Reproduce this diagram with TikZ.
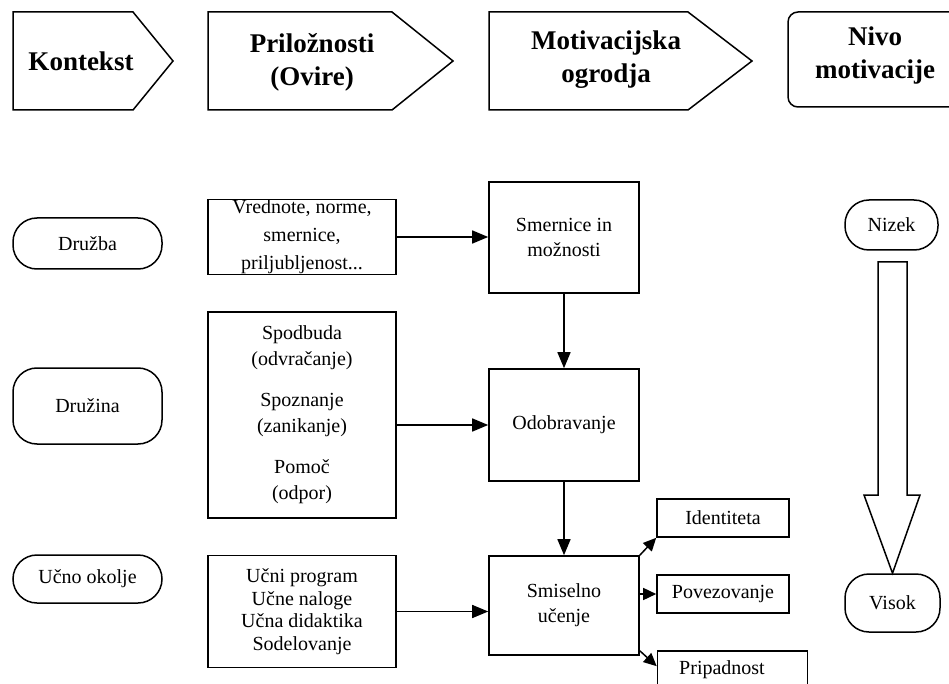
\documentclass[tikz,border=0pt]{standalone}
\usepackage{fontspec}
\setmainfont{Liberation Serif}
\usetikzlibrary{arrows.meta,calc}

\begin{document}
\begin{tikzpicture}[x=1pt,y=-1pt,
  every node/.style={font=\fontsize{20}{26}\selectfont, align=center, inner sep=0pt},
  hdr/.style={font=\fontsize{27}{33}\selectfont\bfseries},
  outline/.style={draw, line width=1.5pt, line join=miter},
  pill/.style={draw, line width=1.5pt, rounded corners=24pt},
  box/.style={draw, line width=1.6pt},
  arr/.style={line width=1.5pt, -{Triangle[length=16pt,width=13pt]}},
  arrsmall/.style={line width=1.5pt, -{Triangle[length=13pt,width=12pt]}}
]
\useasboundingbox (0,0) rectangle (949,684);
\clip (0,0) rectangle (949,684);

% ---- header row ----
\draw[outline] (13,12) -- (133,12) -- (173,61) -- (133,110) -- (13,110) -- cycle;
\node[hdr] (kont) at (81,61) {Kontekst};

\draw[outline] (208,12) -- (392,12) -- (453,61) -- (392,110) -- (208,110) -- cycle;
\node[hdr] (pril) at (312,62) {Priložnosti\\(Ovire)};

\draw[outline] (489,12) -- (688,12) -- (752,61) -- (688,110) -- (489,110) -- cycle;
\node[hdr] (motiv) at (606,60) {Motivacijska\\ogrodja};

\draw[outline, rounded corners=10pt] (788,12) rectangle (975,107);
\node[hdr] (nivo) at (875,56) {Nivo\\motivacije};

% ---- context column ----
\node[pill, minimum width=149pt, minimum height=51pt] (druzba) at (87.5,243.5) {Družba};
\node[pill, minimum width=149pt, minimum height=76pt] (druzina) at (87.5,406) {Družina};
\node[pill, minimum width=149pt, minimum height=48pt] (ucno) at (87.5,579) {Učno okolje};

% ---- opportunities column ----
\node[box, minimum width=188pt, minimum height=75pt] (vred) at (302,237)
  {Vrednote, norme,\\[2pt]smernice,\\[2pt]priljubljenost...};
\node[box, minimum width=188pt, minimum height=206pt] (spod) at (302,415)
  {Spodbuda\\(odvračanje)\\[15pt]Spoznanje\\(zanikanje)\\[15pt]Pomoč\\(odpor)};
\node[box, minimum width=188pt, minimum height=112pt,
      font=\fontsize{20}{22.5}\selectfont] (ucni) at (302,611.5)
  {Učni program\\Učne naloge\\Učna didaktika\\Sodelovanje};

% ---- motivational frameworks column ----
\node[box, minimum width=150pt, minimum height=111pt,
      font=\fontsize{20}{25}\selectfont] (smer) at (564,237.5) {Smernice in\\možnosti};
\node[box, minimum width=150pt, minimum height=112pt] (odob) at (564,425) {Odobravanje};
\node[box, minimum width=150pt, minimum height=99pt,
      font=\fontsize{20}{25}\selectfont] (smis) at (564,605.5) {Smiselno\\učenje};

% ---- outcomes ----
\node[box, minimum width=132pt, minimum height=38pt] (ident) at (723,518) {Identiteta};
\node[box, minimum width=132pt, minimum height=38pt] (pov) at (723,594) {Povezovanje};
\node[box, minimum width=150pt, minimum height=58pt, text depth=0pt] (prip) at (732.5,680) {};
\node (priptext) at (722,670) {Pripadnost};

% ---- motivation level ----
\node[pill, minimum width=93pt, minimum height=50pt] (nizek) at (891.5,225) {Nizek};
\node[pill, minimum width=95pt, minimum height=58pt] (visok) at (892.5,603) {Visok};
\draw[outline] (878,262) -- (907,262) -- (907,495) -- (920,495)
  -- (visok.north) -- (864,495) -- (878,495) -- cycle;

% ---- connectors ----
\draw[arr] (vred.east) -- (vred.east -| smer.west);
\draw[arr] (spod.east |- odob.west) -- (odob.west);
\draw[arr] (ucni.east) -- (ucni.east -| smis.west);
\draw[arr] (smer.south) -- (odob.north);
\draw[arr] (odob.south) -- (smis.north);

\draw[arrsmall] (smis.north east) -- (ident.south west);
\draw[arrsmall] (smis.east |- pov.west) -- (pov.west);
\coordinate (pripfrom) at ($(smis.south east)+(0,-5)$);
\coordinate (pripto) at ($(prip.north west)+(0,16)$);
\draw[arrsmall] (pripfrom) -- (pripto);
\end{tikzpicture}
\end{document}
